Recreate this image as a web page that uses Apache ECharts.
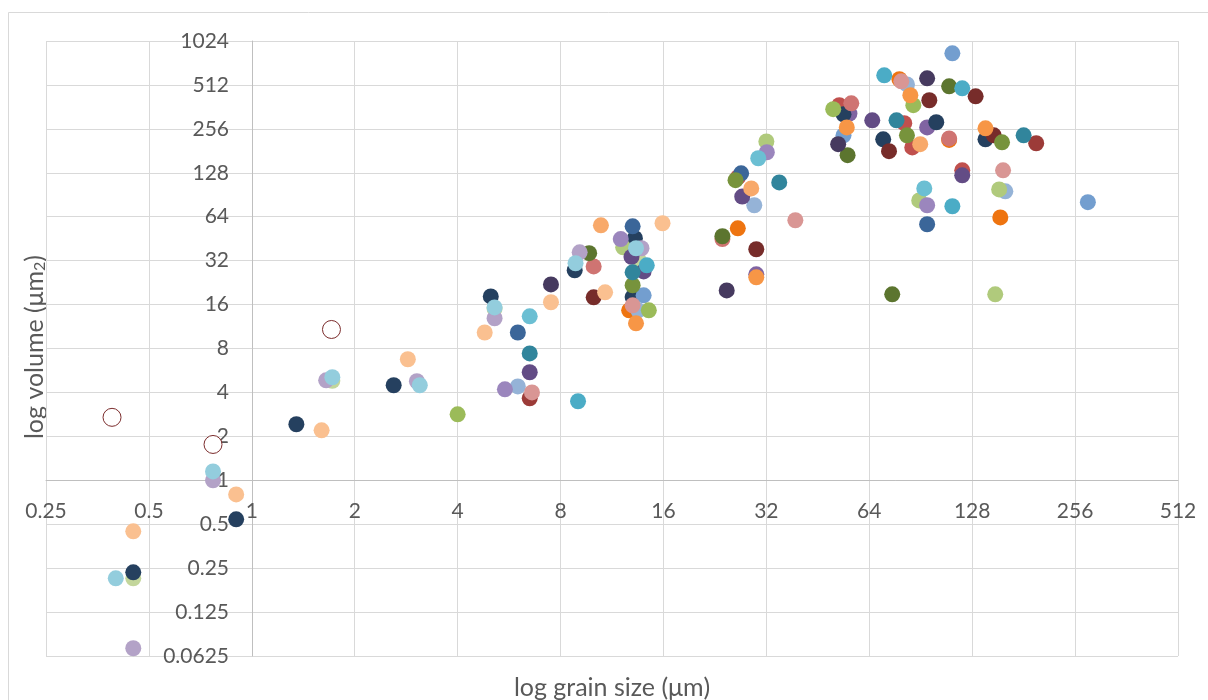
<!DOCTYPE html>
<html>
<head>
<meta charset="utf-8">
<script src="https://cdn.jsdelivr.net/npm/echarts@6/dist/echarts.min.js"></script>
<style>
  html, body { margin: 0; padding: 0; background: #ffffff; }
  #chart { width: 1208px; height: 700px; }
</style>
</head>
<body>
<div id="chart"></div>
<script>
// Tick values (powers of two) for both log axes
const xTicks = [0.25, 0.5, 1, 2, 4, 8, 16, 32, 64, 128, 256, 512];
const yTicks = [0.0625, 0.125, 0.25, 0.5, 1, 2, 4, 8, 16, 32, 64, 128, 256, 512, 1024];
const xTickLabels = ['0.25', '0.5', '1', '2', '4', '8', '16', '32', '64', '128', '256', '512'];
const yTickLabels = ['0.0625', '0.125', '0.25', '0.5', '1', '2', '4', '8', '16', '32', '64', '128', '256', '512', '1024'];

// Grain size (µm) / volume (µm²) measurements, grouped by marker colour
const navy = [[0.9, 0.54], [0.45, 0.234], [1.35, 2.42], [2.6, 4.48], [5.0, 18.2], [8.8, 27.5], [13.2, 45.6], [13.0, 18], [53.8, 322], [70.3, 217], [100.5, 284], [140, 217]];
const darkBlue = [[6.0, 10.3], [13.0, 55], [27, 127], [94.5, 56.8]];
const blue = [[14.0, 18.5], [112, 843], [53.8, 231], [279, 80.5]];
const lightBlue = [[6.0, 4.4], [13.5, 14.6], [29.5, 76.7], [82.5, 516], [160, 95.5]];
const red = [[26.4, 119], [52.3, 372], [81, 280], [85.5, 191], [119.7, 133]];
const brick = [[6.5, 3.65], [197, 204]];
const darkRed = [[10.0, 17.95], [29.9, 38.3], [95.9, 402], [73.1, 180], [131, 428], [148, 231]];
const rose = [[10.0, 29.2], [23.8, 45], [56.7, 383], [109.6, 220]];
const salmon = [[6.6, 4.0], [13.0, 15.8], [38.9, 60.5], [79.4, 542], [157.6, 133]];
const green = [[4.0, 2.83], [14.5, 14.6], [86.1, 372], [50.2, 349]];
const midGreen = [[13.0, 21.7], [26, 114], [82.5, 231], [156.5, 207]];
const olive = [[9.7, 36], [23.8, 47], [109.6, 501], [55.3, 169], [74.7, 18.8]];
const lightGreen = [[12.2, 39.5], [32, 210], [89.6, 82.8], [153.5, 98.5], [149.5, 18.8]];
const paleGreen = [[0.45, 0.213], [1.72, 4.8], [5.13, 15.0], [13.5, 32.7]];
const purple = [[29.9, 25.8], [56, 326], [94.5, 262]];
const lavender = [[5.5, 4.2], [12.0, 45], [32.1, 177], [94.5, 76.7]];
const lilac = [[0.77, 1.0], [0.45, 0.0706], [1.65, 4.84], [3.04, 4.77], [5.13, 12.9], [9.1, 36.5], [13.8, 38.9]];
const plum = [[6.5, 5.5], [12.9, 34], [14.0, 27], [27.2, 88], [65.3, 293], [119.7, 123]];
const deepPurple = [[7.5, 22], [24.5, 20], [94.5, 568], [51.9, 201]];
const aqua = [[9.0, 3.48], [14.3, 29.7], [70.8, 596], [119.7, 485], [112, 75.5]];
const lightAqua = [[6.5, 13.3], [30.3, 161], [92.7, 100]];
const cyan = [[0.77, 1.15], [0.40, 0.213], [1.72, 5.08], [3.1, 4.48], [5.13, 15.3], [8.85, 30.7], [13.3, 38.9]];
const teal = [[6.5, 7.4], [13.0, 26.6], [34.9, 110], [76.9, 293], [181, 231]];
const orange = [[13.3, 11.9], [29.9, 24.6], [84.4, 435], [55, 262], [140, 258]];
const apricot = [[10.5, 55.9], [28.9, 100], [90.2, 201]];
const peach = [[0.9, 0.8], [0.45, 0.447], [1.6, 2.2], [2.86, 6.75], [4.8, 10.3], [7.5, 16.6], [10.8, 19.4], [15.9, 57.7]];
const vermilion = [[12.7, 14.6], [26.4, 53.3], [78.4, 560], [154.7, 63.3], [109.6, 215]];
const outliers = [[0.39, 2.7], [0.77, 1.76], [1.71, 10.8]];

// Filled marker groups in drawing order, with their colours
const groups = [
  [vermilion, '#EE7410'],
  [purple, '#8064A2'],
  [red, '#C0504D'],
  [paleGreen, '#C3D69B'],
  [navy, '#25405F'],
  [darkBlue, '#3B6699'],
  [blue, '#739ECF'],
  [lightBlue, '#95B3D7'],
  [brick, '#9C3B38'],
  [darkRed, '#772C2A'],
  [rose, '#CF7472'],
  [salmon, '#D99694'],
  [green, '#9BBB59'],
  [midGreen, '#77933C'],
  [olive, '#5C752F'],
  [lightGreen, '#B0CA7C'],
  [lavender, '#9B86BD'],
  [lilac, '#B3A2C7'],
  [plum, '#634C85'],
  [deepPurple, '#463A5F'],
  [aqua, '#4BACC6'],
  [lightAqua, '#6BBFD3'],
  [cyan, '#93CDDD'],
  [teal, '#31859C'],
  [orange, '#F79646'],
  [apricot, '#F8A96A'],
  [peach, '#FAC090']
];

const FONT = 'Lato, "Open Sans", sans-serif';
const TEXT = '#595959';

function tickLabel(ticks, labels) {
  return function (v) {
    let best = 0;
    for (let i = 1; i < ticks.length; i++) {
      if (Math.abs(Math.log2(ticks[i]) - Math.log2(v)) < Math.abs(Math.log2(ticks[best]) - Math.log2(v))) best = i;
    }
    return labels[best];
  };
}

const series = groups.map(function (g) {
  return {
    type: 'scatter',
    data: g[0],
    symbol: 'circle',
    symbolSize: 16,
    itemStyle: { color: g[1], opacity: 1 },
    emphasis: { disabled: true },
    silent: true
  };
});
series.push({
  type: 'scatter',
  data: outliers,
  symbol: 'circle',
  symbolSize: 18,
  itemStyle: { color: '#ffffff', borderColor: '#7B2C2C', borderWidth: 1, opacity: 1 },
  emphasis: { disabled: true },
  silent: true
});

const chart = echarts.init(document.getElementById('chart'), null, { renderer: 'canvas' });
chart.setOption({
  animation: false,
  backgroundColor: '#ffffff',
  grid: { left: 46, right: 30, top: 41, bottom: 44, containLabel: false, outerBoundsMode: 'none' },
  xAxis: {
    type: 'log',
    logBase: 2,
    min: xTicks[0],
    max: xTicks[xTicks.length - 1],
    splitNumber: xTicks.length - 1,
    interval: 1,
    position: 'bottom',
    offset: -176,
    axisLine: { show: true, lineStyle: { color: '#BFBFBF', width: 1 } },
    axisTick: { show: false },
    axisLabel: {
      margin: 21, color: TEXT, fontFamily: FONT, fontSize: 21,
      showMinLabel: true, showMaxLabel: true, hideOverlap: false, interval: 0,
      formatter: tickLabel(xTicks, xTickLabels)
    },
    splitLine: { show: true, interval: 0, lineStyle: { color: '#D9D9D9', width: 1 } },
    minorTick: { show: false }
  },
  yAxis: {
    type: 'log',
    logBase: 2,
    min: yTicks[0],
    max: yTicks[yTicks.length - 1],
    splitNumber: yTicks.length - 1,
    interval: 1,
    position: 'left',
    offset: -206,
    axisLine: { show: true, lineStyle: { color: '#BFBFBF', width: 1 } },
    axisTick: { show: false },
    axisLabel: {
      margin: 23, color: TEXT, fontFamily: FONT, fontSize: 21,
      showMinLabel: true, showMaxLabel: true, hideOverlap: false, interval: 0,
      formatter: tickLabel(yTicks, yTickLabels)
    },
    splitLine: { show: true, interval: 0, lineStyle: { color: '#D9D9D9', width: 1 } }
  },
  graphic: [
    {
      type: 'rect', silent: true, z: -10,
      shape: { x: 8.5, y: 12.5, width: 1400, height: 900 },
      style: { fill: 'none', stroke: '#D9D9D9', lineWidth: 1 }
    },
    {
      type: 'text', silent: true,
      x: 612, y: 688,
      style: {
        text: 'log grain size (μm)', fill: TEXT, font: '25px ' + FONT,
        align: 'center', verticalAlign: 'middle'
      }
    },
    {
      type: 'text', silent: true,
      x: 33, y: 347, rotation: Math.PI / 2,
      style: {
        text: '{t|log volume (μm}{s|2}{t|)}',
        align: 'center', verticalAlign: 'middle',
        rich: {
          t: { fill: TEXT, fontSize: 25, fontFamily: FONT, verticalAlign: 'bottom', lineHeight: 29 },
          s: { fill: TEXT, fontSize: 16, fontFamily: FONT, verticalAlign: 'bottom', lineHeight: 29 }
        }
      }
    }
  ],
  series: series
});
</script>
</body>
</html>
